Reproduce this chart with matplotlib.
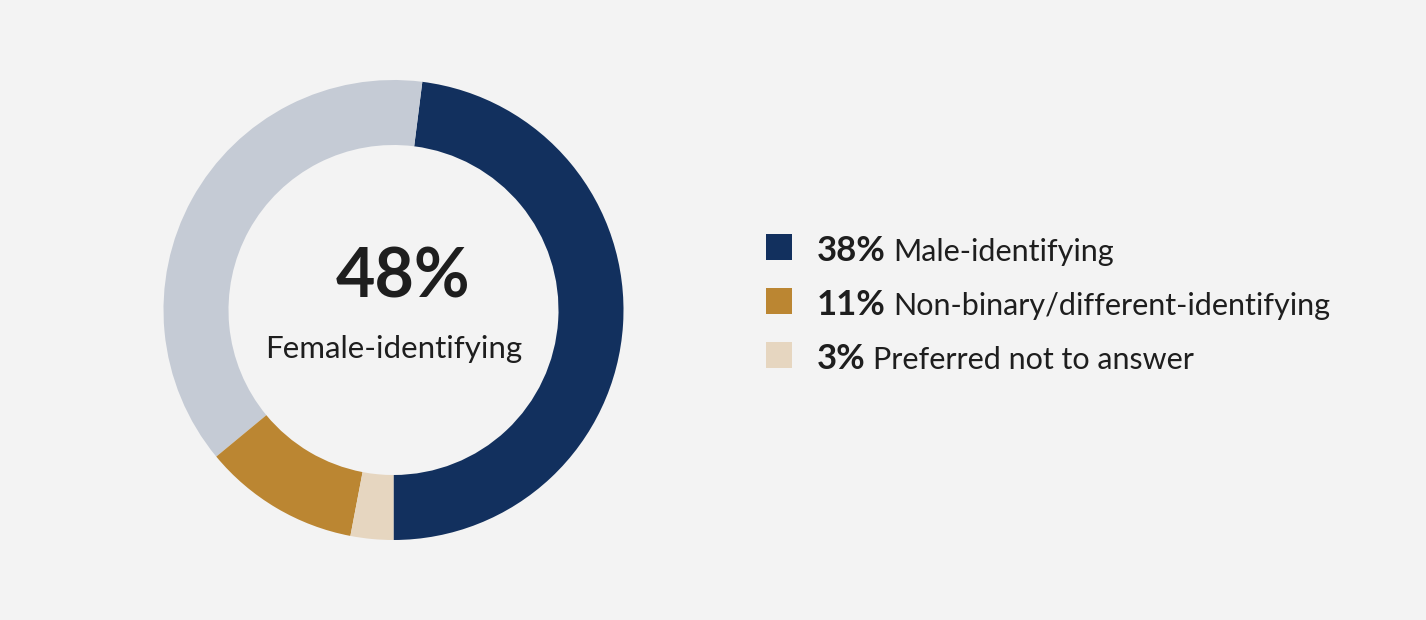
import matplotlib
matplotlib.use("Agg")
import matplotlib.pyplot as plt

# ring shares, in drawing order (counter-clockwise from the bottom)
ring_values = [48, 38, 11, 3]
ring_colors = ["#12305e", "#c5cbd5", "#bb8632", "#e6d6c0"]

center_value = "48%"
center_label = "Female-identifying"

legend_values = ["38%", "11%", "3%"]
legend_labels = ["Male-identifying", "Non-binary/different-identifying", "Preferred not to answer"]
legend_colors = ["#12305e", "#bb8632", "#e6d6c0"]

BG = "#f3f3f3"
TEXT = "#1e1e1e"
W, H = 1426, 620

plt.rcParams["font.family"] = ["Lato", "DejaVu Sans"]

fig = plt.figure(figsize=(W / 100, H / 100), dpi=100, facecolor=BG)
ax = fig.add_axes([0, 0, 1, 1])
ax.set_facecolor(BG)

# donut, sizes in pixels
cx, cy, r_out, r_in = 393.5, 310, 230, 165
ax.pie(ring_values, colors=ring_colors, startangle=-90, counterclock=True,
       center=(cx, H - cy), radius=r_out,
       wedgeprops=dict(width=r_out - r_in, linewidth=0))

ax.set_xlim(0, W)
ax.set_ylim(0, H)
ax.set_aspect("equal")
ax.axis("off")

ax.text(cx + 10, H - 298, center_value, ha="center", va="baseline",
        fontsize=49, fontweight="bold", color=TEXT)
ax.text(cx, H - 358, center_label, ha="center", va="baseline",
        fontsize=22.5, color=TEXT)

renderer = fig.canvas.get_renderer()
baselines = [261, 315, 369]
for val, lab, col, y in zip(legend_values, legend_labels, legend_colors, baselines):
    ax.add_patch(plt.Rectangle((766, H - y + 1), 26, 26, color=col, lw=0))
    t = ax.text(817, H - y, val, ha="left", va="baseline",
                fontsize=25, fontweight="bold", color=TEXT)
    bb = t.get_window_extent(renderer)
    ax.text(bb.x1 + 7, H - y, lab, ha="left", va="baseline",
            fontsize=22, color=TEXT)

fig.savefig("out.png", dpi=100, facecolor=BG)
